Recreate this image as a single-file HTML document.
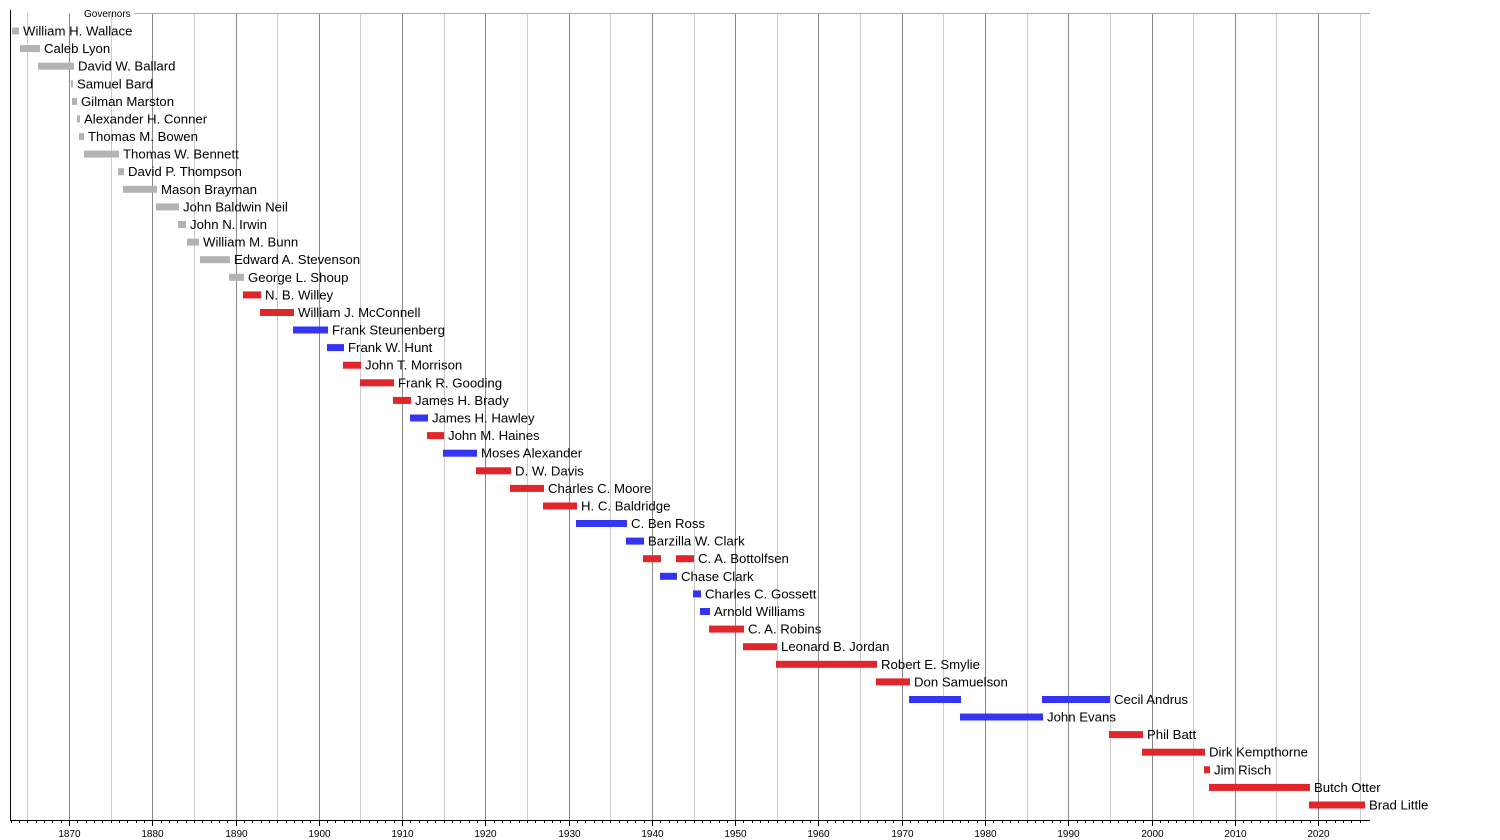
<!DOCTYPE html>
<html><head><meta charset="utf-8"><style>
html,body{margin:0;padding:0;background:#fff;width:1500px;height:840px;overflow:hidden}
svg{display:block;font-family:"Liberation Sans",sans-serif}
.l{font-size:13.2px;fill:#000}
.g{fill:#b3b3b3}.r{fill:#e0252b}.b{fill:#3434f2}
</style></head><body>
<svg id="s" width="1500" height="840" xmlns="http://www.w3.org/2000/svg">
<g id="grid"></g>
<line x1="134" y1="13.5" x2="1370" y2="13.5" stroke="#aaa"/>
<text x="84" y="17" font-size="10">Governors</text>
<g id="bars">
<rect class="g" x="12" y="27.5" width="7" height="7"/><text class="l" x="23" y="35.5">William H. Wallace</text>
<rect class="g" x="20" y="45.1" width="20" height="7"/><text class="l" x="44" y="53.1">Caleb Lyon</text>
<rect class="g" x="38" y="62.7" width="36" height="7"/><text class="l" x="78" y="70.7">David W. Ballard</text>
<rect class="g" x="71" y="80.3" width="2" height="7"/><text class="l" x="77" y="88.3">Samuel Bard</text>
<rect class="g" x="72" y="97.9" width="5" height="7"/><text class="l" x="81" y="105.9">Gilman Marston</text>
<rect class="g" x="77" y="115.5" width="3" height="7"/><text class="l" x="84" y="123.5">Alexander H. Conner</text>
<rect class="g" x="79" y="133.0" width="5" height="7"/><text class="l" x="88" y="141.0">Thomas M. Bowen</text>
<rect class="g" x="84" y="150.6" width="35" height="7"/><text class="l" x="123" y="158.6">Thomas W. Bennett</text>
<rect class="g" x="118" y="168.2" width="6" height="7"/><text class="l" x="128" y="176.2">David P. Thompson</text>
<rect class="g" x="123" y="185.8" width="34" height="7"/><text class="l" x="161" y="193.8">Mason Brayman</text>
<rect class="g" x="156" y="203.4" width="23" height="7"/><text class="l" x="183" y="211.4">John Baldwin Neil</text>
<rect class="g" x="178" y="221.0" width="8" height="7"/><text class="l" x="190" y="229.0">John N. Irwin</text>
<rect class="g" x="187" y="238.6" width="12" height="7"/><text class="l" x="203" y="246.6">William M. Bunn</text>
<rect class="g" x="200" y="256.2" width="30" height="7"/><text class="l" x="234" y="264.2">Edward A. Stevenson</text>
<rect class="g" x="229" y="273.8" width="15" height="7"/><text class="l" x="248" y="281.8">George L. Shoup</text>
<rect class="r" x="243" y="291.4" width="18" height="7"/><text class="l" x="265" y="299.4">N. B. Willey</text>
<rect class="r" x="260" y="309.0" width="34" height="7"/><text class="l" x="298" y="317.0">William J. McConnell</text>
<rect class="b" x="293" y="326.5" width="35" height="7"/><text class="l" x="332" y="334.5">Frank Steunenberg</text>
<rect class="b" x="327" y="344.1" width="17" height="7"/><text class="l" x="348" y="352.1">Frank W. Hunt</text>
<rect class="r" x="343" y="361.7" width="18" height="7"/><text class="l" x="365" y="369.7">John T. Morrison</text>
<rect class="r" x="360" y="379.3" width="34" height="7"/><text class="l" x="398" y="387.3">Frank R. Gooding</text>
<rect class="r" x="393" y="396.9" width="18" height="7"/><text class="l" x="415" y="404.9">James H. Brady</text>
<rect class="b" x="410" y="414.5" width="18" height="7"/><text class="l" x="432" y="422.5">James H. Hawley</text>
<rect class="r" x="427" y="432.1" width="17" height="7"/><text class="l" x="448" y="440.1">John M. Haines</text>
<rect class="b" x="443" y="449.7" width="34" height="7"/><text class="l" x="481" y="457.7">Moses Alexander</text>
<rect class="r" x="476" y="467.3" width="35" height="7"/><text class="l" x="515" y="475.3">D. W. Davis</text>
<rect class="r" x="510" y="484.9" width="34" height="7"/><text class="l" x="548" y="492.9">Charles C. Moore</text>
<rect class="r" x="543" y="502.5" width="34" height="7"/><text class="l" x="581" y="510.5">H. C. Baldridge</text>
<rect class="b" x="576" y="520.0" width="51" height="7"/><text class="l" x="631" y="528.0">C. Ben Ross</text>
<rect class="b" x="626" y="537.6" width="18" height="7"/><text class="l" x="648" y="545.6">Barzilla W. Clark</text>
<rect class="r" x="643" y="555.2" width="18" height="7"/><rect class="r" x="676" y="555.2" width="18" height="7"/><text class="l" x="698" y="563.2">C. A. Bottolfsen</text>
<rect class="b" x="660" y="572.8" width="17" height="7"/><text class="l" x="681" y="580.8">Chase Clark</text>
<rect class="b" x="693" y="590.4" width="8" height="7"/><text class="l" x="705" y="598.4">Charles C. Gossett</text>
<rect class="b" x="700" y="608.0" width="10" height="7"/><text class="l" x="714" y="616.0">Arnold Williams</text>
<rect class="r" x="709" y="625.6" width="35" height="7"/><text class="l" x="748" y="633.6">C. A. Robins</text>
<rect class="r" x="743" y="643.2" width="34" height="7"/><text class="l" x="781" y="651.2">Leonard B. Jordan</text>
<rect class="r" x="776" y="660.8" width="101" height="7"/><text class="l" x="881" y="668.8">Robert E. Smylie</text>
<rect class="r" x="876" y="678.4" width="34" height="7"/><text class="l" x="914" y="686.4">Don Samuelson</text>
<rect class="b" x="909" y="696.0" width="52" height="7"/><rect class="b" x="1042" y="696.0" width="68" height="7"/><text class="l" x="1114" y="704.0">Cecil Andrus</text>
<rect class="b" x="960" y="713.5" width="83" height="7"/><text class="l" x="1047" y="721.5">John Evans</text>
<rect class="r" x="1109" y="731.1" width="34" height="7"/><text class="l" x="1147" y="739.1">Phil Batt</text>
<rect class="r" x="1142" y="748.7" width="63" height="7"/><text class="l" x="1209" y="756.7">Dirk Kempthorne</text>
<rect class="r" x="1204" y="766.3" width="6" height="7"/><text class="l" x="1214" y="774.3">Jim Risch</text>
<rect class="r" x="1209" y="783.9" width="101" height="7"/><text class="l" x="1314" y="791.9">Butch Otter</text>
<rect class="r" x="1309" y="801.5" width="56" height="7"/><text class="l" x="1369" y="809.5">Brad Little</text>
</g>
<line x1="10.5" y1="10" x2="10.5" y2="821" stroke="#000"/>
<line x1="10" y1="820.5" x2="1370" y2="820.5" stroke="#000"/>
<g id="ticks"></g>
</svg>
<script>
var ns="http://www.w3.org/2000/svg",G=document.getElementById("grid"),T=document.getElementById("ticks");
function X(y){return 69+(y-1870)*8.327;}
function ln(p,x1,y1,x2,y2,c){var l=document.createElementNS(ns,"line");l.setAttribute("x1",x1);l.setAttribute("y1",y1);l.setAttribute("x2",x2);l.setAttribute("y2",y2);l.setAttribute("stroke",c);p.appendChild(l);}
for(var y=1863;y<=2025;y++){var x=Math.round(X(y))+0.5;
 if(y%10==0){ln(G,x,13,x,820,"#888");ln(T,x,820,x,826,"#000");
  var t=document.createElementNS(ns,"text");t.setAttribute("x",x);t.setAttribute("y",837);t.setAttribute("text-anchor","middle");t.setAttribute("font-size","10");t.textContent=y;T.appendChild(t);}
 else{if(y%5==0)ln(G,x,13,x,820,"#ccc");ln(T,x,820,x,823,"#000");}}
</script>
</body></html>
